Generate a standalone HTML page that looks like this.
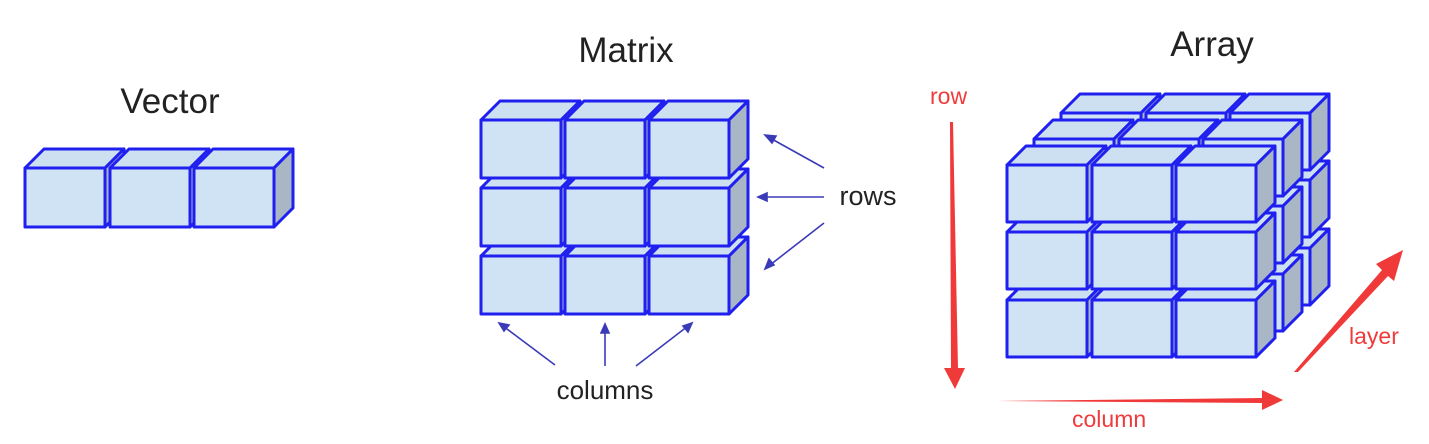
<!DOCTYPE html>
<html><head><meta charset="utf-8"><style>
html,body{margin:0;padding:0;background:#fff;width:1429px;height:444px;overflow:hidden}
svg{display:block}
</style></head><body>
<svg id="s" width="1429" height="444" xmlns="http://www.w3.org/2000/svg">
<g font-family="Liberation Sans, sans-serif" fill="#222">
<text x="170" y="113" font-size="35" text-anchor="middle">Vector</text>
<text x="626" y="62" font-size="35" text-anchor="middle">Matrix</text>
<text x="1212" y="56" font-size="35" text-anchor="middle">Array</text>
<text x="868" y="205" font-size="27" text-anchor="middle">rows</text>
<text x="605" y="399" font-size="26" text-anchor="middle">columns</text>
</g>
<g font-family="Liberation Sans, 'Noto Sans CJK SC', sans-serif" fill="#ef3b3b" font-size="23">
<text x="930" y="104">row</text>
<text x="1072" y="427">column</text>
<text x="1349" y="344">layer</text>
</g>
<g id="cubes"></g>
<g stroke="#3b3bb8" stroke-width="1.6" fill="#3b3bb8">
<line x1="824" y1="168" x2="770" y2="138"/><polygon points="765,135 776,136 772,143"/>
<line x1="824" y1="197" x2="764" y2="197"/><polygon points="758,197 767,193 767,201"/>
<line x1="824" y1="223" x2="770" y2="265"/><polygon points="765,269 769,259 774,265"/>
<line x1="555" y1="365" x2="503" y2="326"/><polygon points="499,323 509,325 504,331"/>
<line x1="605" y1="366" x2="605" y2="330"/><polygon points="605,324 609,333 601,333"/>
<line x1="636" y1="366" x2="688" y2="326"/><polygon points="692,323 688,332 683,326"/>
</g>
<g fill="#f03a3a">
<polygon points="950,122 953,122 958,368 965,368 955,389 944,368 951,368"/>
<polygon points="997,401 1262,398 1262,390 1283,400 1262,410 1262,403"/>
<polygon points="1294,372 1298,372 1388,276 1394,281 1403,250 1376,264 1382,270"/>
</g>
</svg>
<script>
var g=document.getElementById('cubes'),h='';
function cube(x,y,w,hh,d){
 var S='stroke="#1f1ff0" stroke-width="3" stroke-linejoin="round"';
 h+='<polygon points="'+x+','+y+' '+(x+d)+','+(y-d)+' '+(x+w+d)+','+(y-d)+' '+(x+w)+','+y+'" fill="#cde0f2" '+S+'/>';
 h+='<polygon points="'+(x+w)+','+y+' '+(x+w+d)+','+(y-d)+' '+(x+w+d)+','+(y+hh-d)+' '+(x+w)+','+(y+hh)+'" fill="#a8b6c6" '+S+'/>';
 h+='<rect x="'+x+'" y="'+y+'" width="'+w+'" height="'+hh+'" fill="#cfe3f4" '+S+'/>';
}
[25,110,194].forEach(function(x){cube(x,168,80,59,19)});
var mx=[481,565,649],my=[256,188,120];
my.forEach(function(y){mx.forEach(function(x){cube(x,y,80,58,19)})});
var ax=[1007,1092,1176],ay=[300,232,165];
for(var L=2;L>=0;L--){
 var ox=L*27,oy=-L*26;
 ay.forEach(function(y){ax.forEach(function(x){cube(x+ox,y+oy,80,57,19)})});
}
g.innerHTML=h;
</script>
</body></html>
